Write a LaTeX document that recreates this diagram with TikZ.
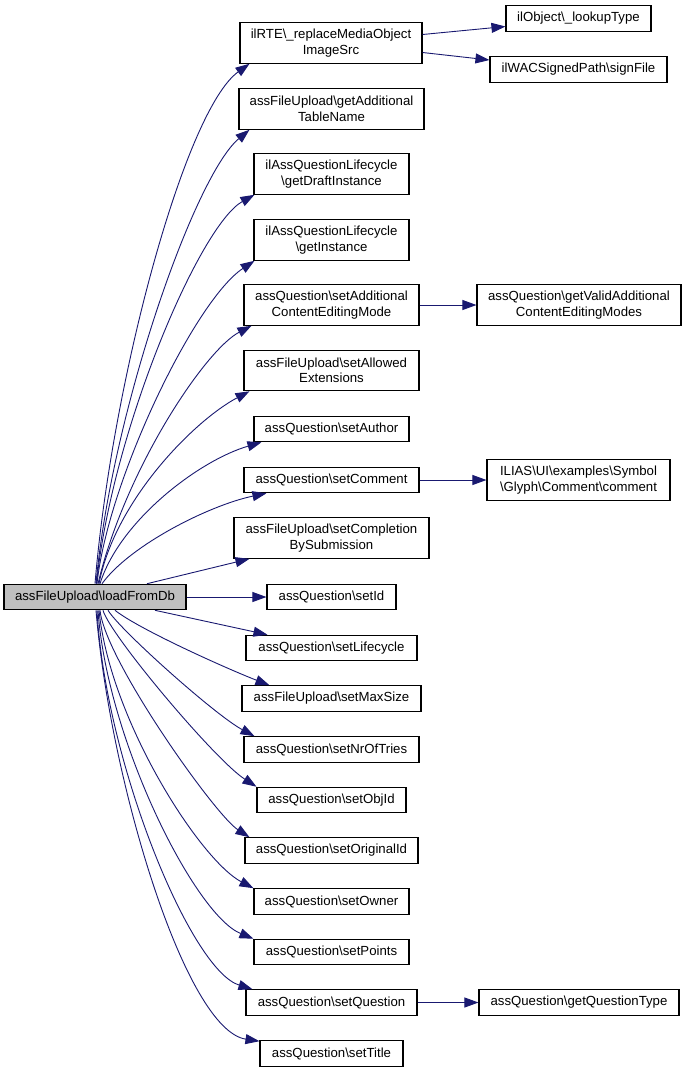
\documentclass[tikz,border=0pt]{standalone}
\usepackage{fontspec}
\setmainfont{Liberation Sans}
\usetikzlibrary{arrows.meta}
\definecolor{edgecol}{HTML}{191970}
\definecolor{rootfill}{HTML}{BFBFBF}
\newcommand{\bs}{\textbackslash}
\begin{document}
\begin{tikzpicture}[x=1pt,y=1pt,
  box/.style={draw=black, line width=1.1pt, fill=white, inner sep=0pt, align=center,
    font=\fontsize{13.2}{15.5}\selectfont},
  one/.style={box, minimum height=25.5pt},
  two/.style={box, minimum height=40.5pt},
  call/.style={draw=edgecol, line width=0.9pt, -{Triangle[length=14pt,width=10pt,fill=edgecol]}}]
\useasboundingbox (0,0) rectangle (683,-1072);

% nodes
\node[one, fill=rootfill, minimum width=182pt] (root) at (95,-597) {assFileUpload\bs loadFromDb};

\node[two, minimum width=182pt] (rte) at (331,-43) {ilRTE\bs\_replaceMediaObject\\ImageSrc};
\node[one, minimum width=145pt] (lookup) at (578.5,-18.5) {ilObject\bs\_lookupType};
\node[one, minimum width=177pt] (sign) at (578.5,-69.5) {ilWACSignedPath\bs signFile};
\node[two, minimum width=185pt] (getadd) at (331.5,-109) {assFileUpload\bs getAdditional\\TableName};
\node[two, minimum width=155pt] (draft) at (331.5,-174) {ilAssQuestionLifecycle\\\bs getDraftInstance};
\node[two, minimum width=155pt] (inst) at (331.5,-240) {ilAssQuestionLifecycle\\\bs getInstance};
\node[two, minimum width=175pt] (setadd) at (331.5,-305) {assQuestion\bs setAdditional\\ContentEditingMode};
\node[two, minimum width=204pt] (getvalid) at (579,-305) {assQuestion\bs getValidAdditional\\ContentEditingModes};
\node[two, minimum width=175pt] (allowed) at (331.5,-370.5) {assFileUpload\bs setAllowed\\Extensions};
\node[one, minimum width=155pt] (author) at (331.5,-429) {assQuestion\bs setAuthor};
\node[one, minimum width=175pt] (comment) at (331.5,-480) {assQuestion\bs setComment};
\node[two, minimum width=183pt] (ilias) at (578.5,-480) {ILIAS\bs UI\bs examples\bs Symbol\\\bs Glyph\bs Comment\bs comment};
\node[two, minimum width=195pt] (completion) at (331.5,-538) {assFileUpload\bs setCompletion\\BySubmission};
\node[one, minimum width=129pt] (setid) at (331.5,-597) {assQuestion\bs setId};
\node[one, minimum width=171pt] (lifecycle) at (331.5,-648) {assQuestion\bs setLifecycle};
\node[one, minimum width=179pt] (maxsize) at (331.5,-698.5) {assFileUpload\bs setMaxSize};
\node[one, minimum width=175pt] (tries) at (331.5,-749.5) {assQuestion\bs setNrOfTries};
\node[one, minimum width=149pt] (objid) at (331.5,-800) {assQuestion\bs setObjId};
\node[one, minimum width=173pt] (origid) at (331.5,-850.5) {assQuestion\bs setOriginalId};
\node[one, minimum width=155pt] (owner) at (331.5,-901.5) {assQuestion\bs setOwner};
\node[one, minimum width=155pt] (points) at (331.5,-952) {assQuestion\bs setPoints};
\node[one, minimum width=171pt] (question) at (331.5,-1002.5) {assQuestion\bs setQuestion};
\node[one, minimum width=200pt] (qtype) at (579,-1002.5) {assQuestion\bs getQuestionType};
\node[one, minimum width=143pt] (title) at (331.5,-1053.5) {assQuestion\bs setTitle};

% upward edges
\draw[call] ([xshift=0pt]root.north) .. controls (112,-380) and (185,-110) .. ([xshift=10pt]rte.south west);
\draw[call] ([xshift=1pt]root.north) .. controls (112,-410) and (195,-175) .. ([xshift=11pt]getadd.south west);
\draw[call] ([xshift=1.5pt]root.north) .. controls (112,-430) and (200,-225) .. ([xshift=1pt]draft.south west);
\draw[call] ([xshift=2pt]root.north) .. controls (108,-480) and (195,-300) .. ([xshift=1pt]inst.south west);
\draw[call] ([xshift=3pt]root.north) .. controls (125,-470) and (205,-350) .. ([xshift=8pt]setadd.south west);
\draw[call] ([xshift=4pt]root.north) .. controls (115,-500) and (195,-420) .. ([xshift=6pt]allowed.south west);
\draw[call] ([xshift=5pt]root.north) .. controls (120,-520) and (200,-460) .. ([xshift=8pt]author.south west);
\draw[call] ([xshift=7pt]root.north) .. controls (130,-545) and (210,-505) .. ([xshift=23pt]comment.south west);
\draw[call] ([xshift=52pt]root.north) -- ([xshift=16pt]completion.south west);
\draw[call] (root.east) -- (setid.west);

% downward edges
\draw[call] ([xshift=60pt]root.south) -- ([xshift=22pt]lifecycle.north west);
\draw[call] ([xshift=20pt]root.south) .. controls (140,-630) and (230,-670) .. ([xshift=28pt]maxsize.north west);
\draw[call] ([xshift=13pt]root.south) .. controls (120,-630) and (215,-715) .. ([xshift=11pt]tries.north west);
\draw[call] ([xshift=8pt]root.south) .. controls (110,-635) and (215,-760) .. ([xshift=0pt]objid.north west);
\draw[call] ([xshift=5pt]root.south) .. controls (105,-660) and (215,-815) .. ([xshift=5pt]origid.north west);
\draw[call] ([xshift=4pt]root.south) .. controls (110,-720) and (200,-860) .. ([xshift=0pt]owner.north west);
\draw[call] ([xshift=3pt]root.south) .. controls (107,-740) and (195,-915) .. ([xshift=0pt]points.north west);
\draw[call] ([xshift=2pt]root.south) .. controls (105,-760) and (190,-970) .. ([xshift=7pt]question.north west);
\draw[call] ([xshift=1pt]root.south) .. controls (110,-780) and (185,-1030) .. ([yshift=-1pt]title.north west);

% right side edges
\draw[call] ([yshift=8.5pt]rte.east) -- ([yshift=-8pt]lookup.west);
\draw[call] ([yshift=-9.5pt]rte.east) -- ([yshift=9.5pt]sign.west);
\draw[call] (setadd.east) -- (getvalid.west);
\draw[call] (comment.east) -- (ilias.west);
\draw[call] (question.east) -- (qtype.west);
\end{tikzpicture}
\end{document}
